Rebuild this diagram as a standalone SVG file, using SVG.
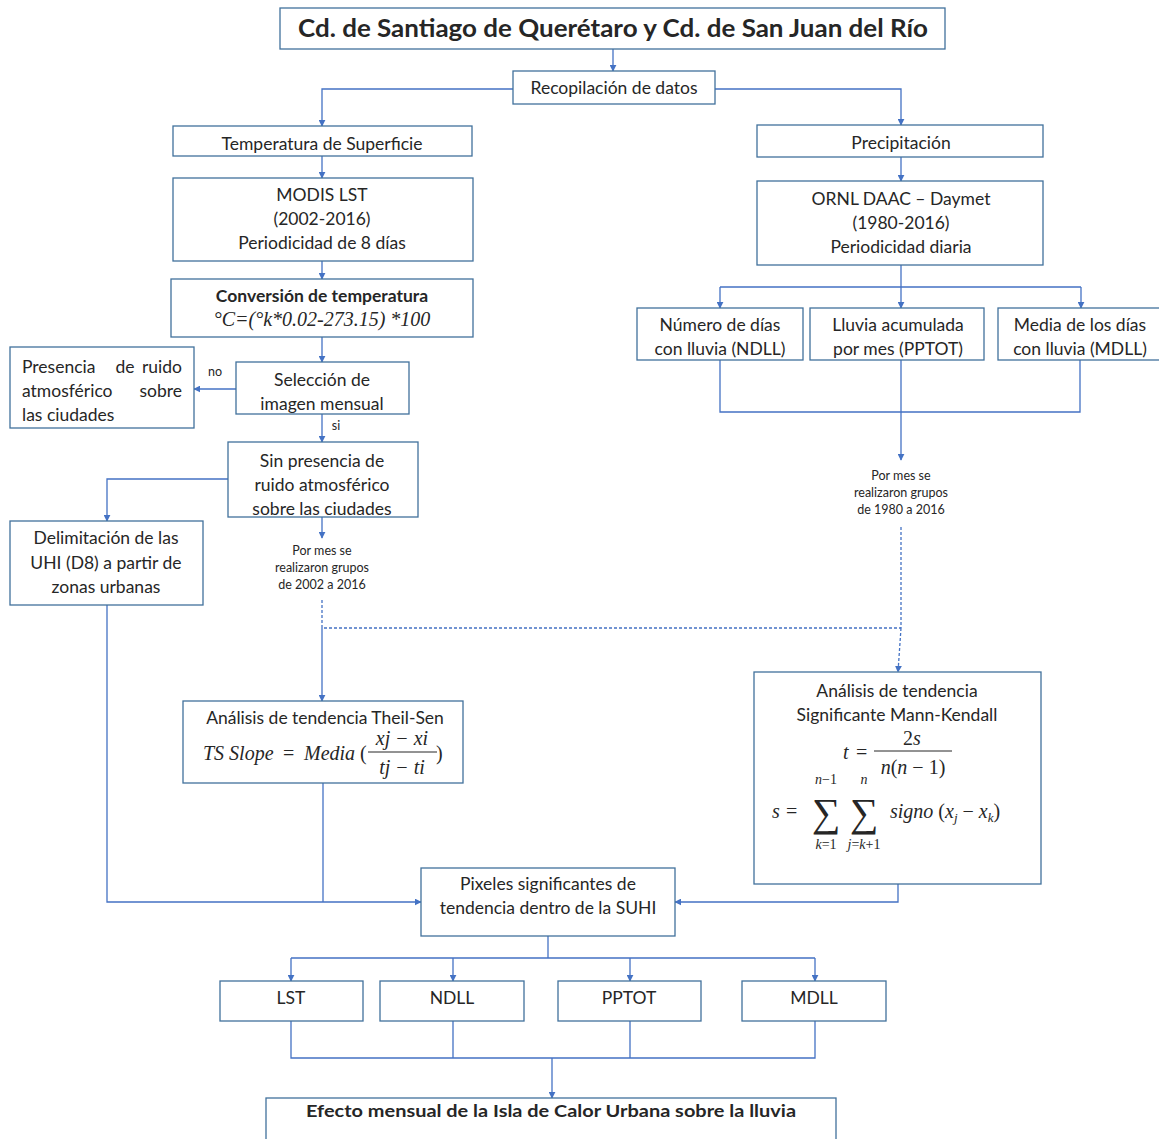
<svg xmlns="http://www.w3.org/2000/svg" width="1159" height="1139" viewBox="0 0 1159 1139">
<defs>
<marker id="ah" viewBox="0 0 10 10" refX="9" refY="5" markerWidth="7" markerHeight="7" markerUnits="userSpaceOnUse" orient="auto"><path d="M0,0 L10,5 L0,10 z" fill="#4472c4"/></marker>
<style>
.box{fill:#fff;stroke:#41719c;stroke-width:1.3}
.t{font-family:Lato,"Liberation Sans",sans-serif;font-size:17.5px;fill:#262626;text-anchor:middle}
.b{font-weight:bold}
.s{font-family:Lato,"Liberation Sans",sans-serif;font-size:12.5px;fill:#262626;text-anchor:middle}
.m{font-family:"Liberation Serif","DejaVu Serif",serif;font-style:italic;font-size:20px;fill:#262626}
.mn{font-family:"Liberation Serif","DejaVu Serif",serif;font-size:20px;fill:#262626}
.c{fill:none;stroke:#4472c4;stroke-width:1.3}
.a{marker-end:url(#ah)}
.d{stroke-dasharray:3,2}
</style>
</defs>
<rect width="1159" height="1139" fill="#fff"/>
<g id="connectors">
<path class="c a" d="M613,49 V71"/>
<path class="c a" d="M513,89 H322 V126"/>
<path class="c a" d="M715,89 H901 V125"/>
<path class="c a" d="M322,156 V178"/>
<path class="c a" d="M322,261 V279"/>
<path class="c a" d="M322,337 V362"/>
<path class="c a" d="M236,389 H194"/>
<path class="c a" d="M322,414 V442"/>
<path class="c a" d="M228,479 H107 V521"/>
<path class="c a" d="M322,517 V538"/>
<path class="c d" d="M322,600 V628 H901"/>
<path class="c a" d="M322,628 V701"/>
<path class="c a" d="M901,157 V181"/>
<path class="c" d="M901,265 V287"/>
<path class="c a" d="M720,287 H1081 M720,287 V308"/>
<path class="c a" d="M901,287 V308"/>
<path class="c a" d="M1081,287 V308"/>
<path class="c" d="M720,360 V412 H1080 V360 M901,360 V412"/>
<path class="c a" d="M901,412 V460"/>
<path class="c d" d="M901,527 V628"/>
<path class="c d a" d="M901,628 L898,672"/>
<path class="c a" d="M107,605 V902 H421"/>
<path class="c" d="M323,783 V902"/>
<path class="c a" d="M898,884 V902 H675"/>
<path class="c" d="M548,936 V958"/>
<path class="c a" d="M291,958 H815 M291,958 V981"/>
<path class="c a" d="M453,958 V981"/>
<path class="c a" d="M630,958 V981"/>
<path class="c a" d="M815,958 V981"/>
<path class="c" d="M291,1021 V1058 H815 V1021 M453,1021 V1058 M630,1021 V1058"/>
<path class="c a" d="M552,1058 V1098"/>
</g>
<g id="n-title"><rect class="box" x="280" y="8" width="665" height="41"/><text class="t b" x="613" y="37" style="font-size:25px" textLength="630" lengthAdjust="spacingAndGlyphs">Cd. de Santiago de Querétaro y Cd. de San Juan del Río</text></g>
<g id="n-recop"><rect class="box" x="513" y="71" width="202" height="33"/><text class="t" x="614" y="94">Recopilación de datos</text></g>
<g id="n-temp"><rect class="box" x="173" y="126" width="299" height="30"/><text class="t" x="322" y="150">Temperatura de Superficie</text></g>
<g id="n-modis"><rect class="box" x="173" y="178" width="300" height="83"/><text class="t" x="322" y="201">MODIS LST</text><text class="t" x="322" y="225">(2002-2016)</text><text class="t" x="322" y="249">Periodicidad de 8 días</text></g>
<g id="n-conv"><rect class="box" x="171" y="279" width="302" height="58"/><text class="t b" x="322" y="302">Conversión de temperatura</text><text class="m" x="322" y="326" text-anchor="middle">°C=(°k*0.02-273.15) *100</text></g>
<g id="n-sel"><rect class="box" x="236" y="362" width="173" height="52"/><text class="t" x="322" y="386">Selección de</text><text class="t" x="322" y="410">imagen mensual</text></g>
<text class="s" x="215" y="376">no</text>
<text class="s" x="336" y="430">si</text>
<g id="n-pres"><rect class="box" x="10" y="347" width="184" height="81"/><text class="t" x="22" y="373" style="text-anchor:start">Presencia</text><text class="t" x="125" y="373">de</text><text class="t" x="182" y="373" style="text-anchor:end">ruido</text><text class="t" x="22" y="397" style="text-anchor:start">atmosférico</text><text class="t" x="182" y="397" style="text-anchor:end">sobre</text><text class="t" x="22" y="421" style="text-anchor:start">las ciudades</text></g>
<g id="n-sin"><rect class="box" x="228" y="442" width="190" height="75"/><text class="t" x="322" y="467">Sin presencia de</text><text class="t" x="322" y="491">ruido atmosférico</text><text class="t" x="322" y="515">sobre las ciudades</text></g>
<g id="n-delim"><rect class="box" x="10" y="521" width="193" height="84"/><text class="t" x="106" y="544">Delimitación de las</text><text class="t" x="106" y="569">UHI (D8) a partir de</text><text class="t" x="106" y="593">zonas urbanas</text></g>
<g id="n-lbl1"><text class="s" x="322" y="555">Por mes  se</text><text class="s" x="322" y="572">realizaron grupos</text><text class="s" x="322" y="589">de 2002 a 2016</text></g>
<g id="n-theil"><rect class="box" x="183" y="701" width="280" height="82"/><text class="t" x="325" y="724">Análisis de tendencia Theil-Sen</text><text class="m" x="203" y="760">TS Slope</text><text class="mn" x="283" y="760">=</text><text class="m" x="304" y="760">Media</text><text class="mn" x="360" y="760">(</text><text class="m" x="402" y="745" text-anchor="middle">xj − xi</text><line x1="368" y1="752" x2="437" y2="752" stroke="#262626" stroke-width="1"/><text class="m" x="402" y="774" text-anchor="middle">tj − ti</text><text class="mn" x="436" y="760">)</text></g>
<g id="n-precip"><rect class="box" x="757" y="125" width="286" height="32"/><text class="t" x="901" y="149">Precipitación</text></g>
<g id="n-ornl"><rect class="box" x="757" y="181" width="286" height="84"/><text class="t" x="901" y="205">ORNL DAAC – Daymet</text><text class="t" x="901" y="229">(1980-2016)</text><text class="t" x="901" y="253">Periodicidad diaria</text></g>
<g id="n-ndll"><rect class="box" x="637" y="308" width="166" height="52"/><text class="t" x="720" y="331">Número de días</text><text class="t" x="720" y="355">con lluvia (NDLL)</text></g>
<g id="n-pptot"><rect class="box" x="810" y="308" width="174" height="52"/><text class="t" x="898" y="331">Lluvia acumulada</text><text class="t" x="898" y="355">por mes (PPTOT)</text></g>
<g id="n-mdll"><rect class="box" x="998" y="308" width="165" height="52"/><text class="t" x="1080" y="331">Media de los días</text><text class="t" x="1080" y="355">con lluvia (MDLL)</text></g>
<g id="n-lbl2"><text class="s" x="901" y="480">Por mes  se</text><text class="s" x="901" y="497">realizaron grupos</text><text class="s" x="901" y="514">de 1980 a 2016</text></g>
<g id="n-mk"><rect class="box" x="754" y="672" width="287" height="212"/><text class="t" x="897" y="697">Análisis de tendencia</text><text class="t" x="897" y="721">Significante Mann-Kendall</text>
<text class="m" x="843" y="759">t</text><text class="mn" x="856" y="759">=</text><text class="mn" x="912" y="745" text-anchor="middle">2<tspan font-style="italic">s</tspan></text><line x1="874" y1="751" x2="952" y2="751" stroke="#262626" stroke-width="1"/><text class="m" x="913" y="774" text-anchor="middle">n<tspan font-style="normal">(</tspan>n<tspan font-style="normal"> − 1)</tspan></text>
<text class="m" x="772" y="818">s</text><text class="mn" x="786" y="818">=</text>
<text class="mn" x="826" y="826" text-anchor="middle" style="font-size:40px">∑</text><text class="m" x="826" y="784" text-anchor="middle" style="font-size:14px">n<tspan font-style="normal">−1</tspan></text><text class="m" x="826" y="849" text-anchor="middle" style="font-size:14px">k<tspan font-style="normal">=1</tspan></text>
<text class="mn" x="864" y="826" text-anchor="middle" style="font-size:40px">∑</text><text class="m" x="864" y="784" text-anchor="middle" style="font-size:14px">n</text><text class="m" x="864" y="849" text-anchor="middle" style="font-size:14px">j<tspan font-style="normal">=</tspan>k<tspan font-style="normal">+1</tspan></text>
<text class="m" x="890" y="818">signo <tspan font-style="normal">(</tspan>x<tspan font-size="13" dy="4">j</tspan><tspan dy="-4" font-style="normal"> − </tspan>x<tspan font-size="13" dy="4">k</tspan><tspan dy="-4" font-style="normal">)</tspan></text></g>
<g id="n-pix"><rect class="box" x="421" y="868" width="254" height="68"/><text class="t" x="548" y="890">Pixeles significantes de</text><text class="t" x="548" y="914">tendencia dentro de la SUHI</text></g>
<g id="n-lst"><rect class="box" x="220" y="981" width="143" height="40"/><text class="t" x="291" y="1004">LST</text></g>
<g id="n-ndll2"><rect class="box" x="380" y="981" width="144" height="40"/><text class="t" x="452" y="1004">NDLL</text></g>
<g id="n-pptot2"><rect class="box" x="558" y="981" width="143" height="40"/><text class="t" x="629" y="1004">PPTOT</text></g>
<g id="n-mdll2"><rect class="box" x="742" y="981" width="144" height="40"/><text class="t" x="814" y="1004">MDLL</text></g>
<g id="n-final"><rect class="box" x="266" y="1098" width="570" height="50"/><text class="t b" x="551" y="1117" style="font-size:17px" textLength="490" lengthAdjust="spacingAndGlyphs">Efecto mensual de la Isla de Calor Urbana sobre la lluvia</text></g>
</svg>
